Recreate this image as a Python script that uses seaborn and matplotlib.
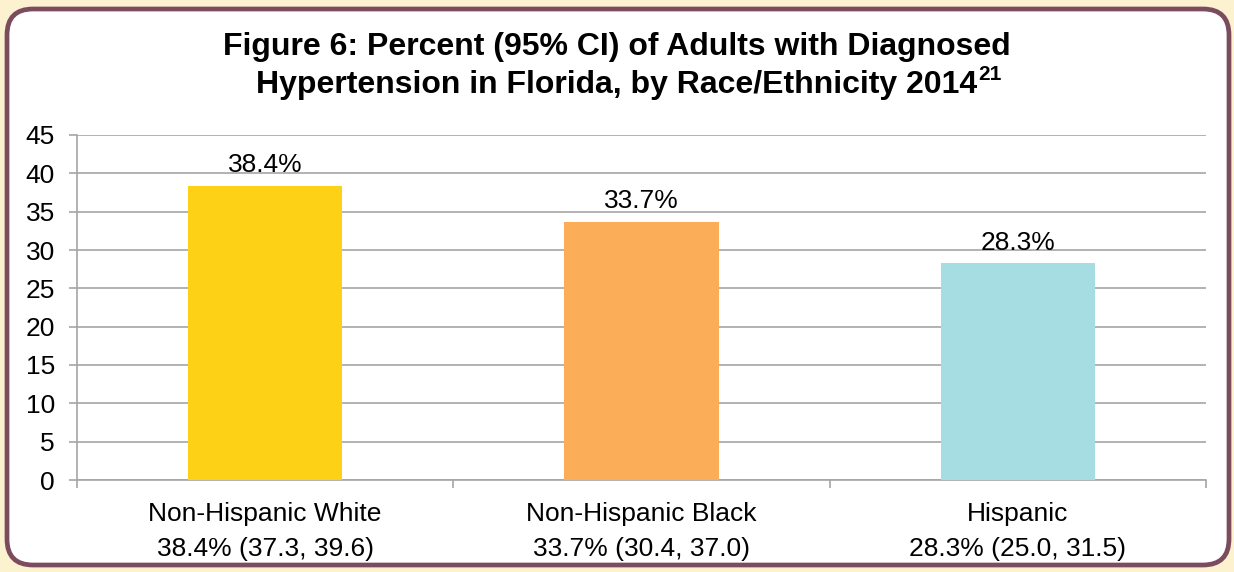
import matplotlib
matplotlib.use("Agg")
import matplotlib.pyplot as plt
from matplotlib.patches import FancyBboxPatch
import seaborn as sns
import pandas as pd

# Data
categories = ["Non-Hispanic White", "Non-Hispanic Black", "Hispanic"]
percent = [38.4, 33.7, 28.3]
ci_low = [37.3, 30.4, 25.0]
ci_high = [39.6, 37.0, 31.5]
y_ticks = [0, 5, 10, 15, 20, 25, 30, 35, 40, 45]
bar_colors = ["#FCD116", "#FBAD57", "#A6DDE3"]
title_line1 = "Figure 6: Percent (95% CI) of Adults with Diagnosed"
title_line2 = "Hypertension in Florida, by Race/Ethnicity 2014"
title_sup = "21"

sns.set_theme(style="white")
plt.rcParams["font.family"] = ["Liberation Sans", "DejaVu Sans"]
plt.rcParams["text.color"] = "black"
plt.rcParams["xtick.labelcolor"] = "black"
plt.rcParams["ytick.labelcolor"] = "black"

W, H = 1234, 572
fig = plt.figure(figsize=(W / 100, H / 100), dpi=100)
fig.patch.set_facecolor("#FDF2CF")

# Rounded frame
bg = fig.add_axes([0, 0, 1, 1])
bg.set_xlim(0, W)
bg.set_ylim(H, 0)
bg.axis("off")
frame = FancyBboxPatch((7, 9), W - 12, H - 16,
                       boxstyle="round,pad=0,rounding_size=26",
                       facecolor="white", edgecolor="#7A4C5E", linewidth=3.4)
bg.add_patch(frame)

df = pd.DataFrame({"category": categories, "percent": percent})
df["label"] = [f"{c}\n{p:.1f}% ({lo:.1f}, {hi:.1f})"
               for c, p, lo, hi in zip(categories, percent, ci_low, ci_high)]

ax = fig.add_axes([77 / W, 1 - 480 / H, (1206 - 77) / W, (480 - 135) / H])
ax.set_facecolor("none")
sns.barplot(data=df, x="label", y="percent", hue="label",
            palette=bar_colors, width=0.41, legend=False, ax=ax,
            saturation=1, linewidth=0, zorder=3)

grid_c = "#A6A6A6"
ax.set_ylim(0, 45)
ax.set_xlim(-0.5, 2.5)
ax.set_yticks(y_ticks)
ax.yaxis.grid(True, color=grid_c, linewidth=1.2, zorder=0)
ax.set_axisbelow(True)
for s in ["top", "right"]:
    ax.spines[s].set_visible(False)
for s in ["left", "bottom"]:
    ax.spines[s].set_color(grid_c)
    ax.spines[s].set_linewidth(1.2)

# Category boundary ticks, labels centred under bars
ax.set_xticks([-0.5, 0.5, 1.5, 2.5])
ax.set_xticklabels([])
ax.set_xticks([0, 1, 2], minor=True)
ax.set_xticklabels(df["label"], minor=True, fontsize=19, linespacing=1.55)
ax.tick_params(axis="x", which="major", length=6, width=1.2, color=grid_c, bottom=True)
ax.tick_params(axis="x", which="minor", length=0, pad=16)
ax.tick_params(axis="y", length=6, width=1.2, color=grid_c, left=True,
               labelsize=19, pad=10)
ax.set_xlabel("")
ax.set_ylabel("")

for i, v in enumerate(percent):
    ax.annotate(f"{v:.1f}%", (i, v), xytext=(0, 6), textcoords="offset points",
                ha="center", va="bottom", fontsize=19)

# Title with superscript reference
fig.text(0.5, 1 - 47 / H, title_line1, ha="center", va="center",
         fontsize=23, fontweight="bold")
t2 = fig.text(0.5, 1 - 85 / H, title_line2, ha="center", va="center",
              fontsize=23, fontweight="bold")
fig.canvas.draw()
r = fig.canvas.get_renderer()
w2 = t2.get_window_extent(r).width
fig.text((W / 2 + w2 / 2 + 1) / W, 1 - 75 / H, title_sup, ha="left",
         va="center", fontsize=15, fontweight="bold")

fig.savefig("out.png", dpi=100, facecolor=fig.get_facecolor())
